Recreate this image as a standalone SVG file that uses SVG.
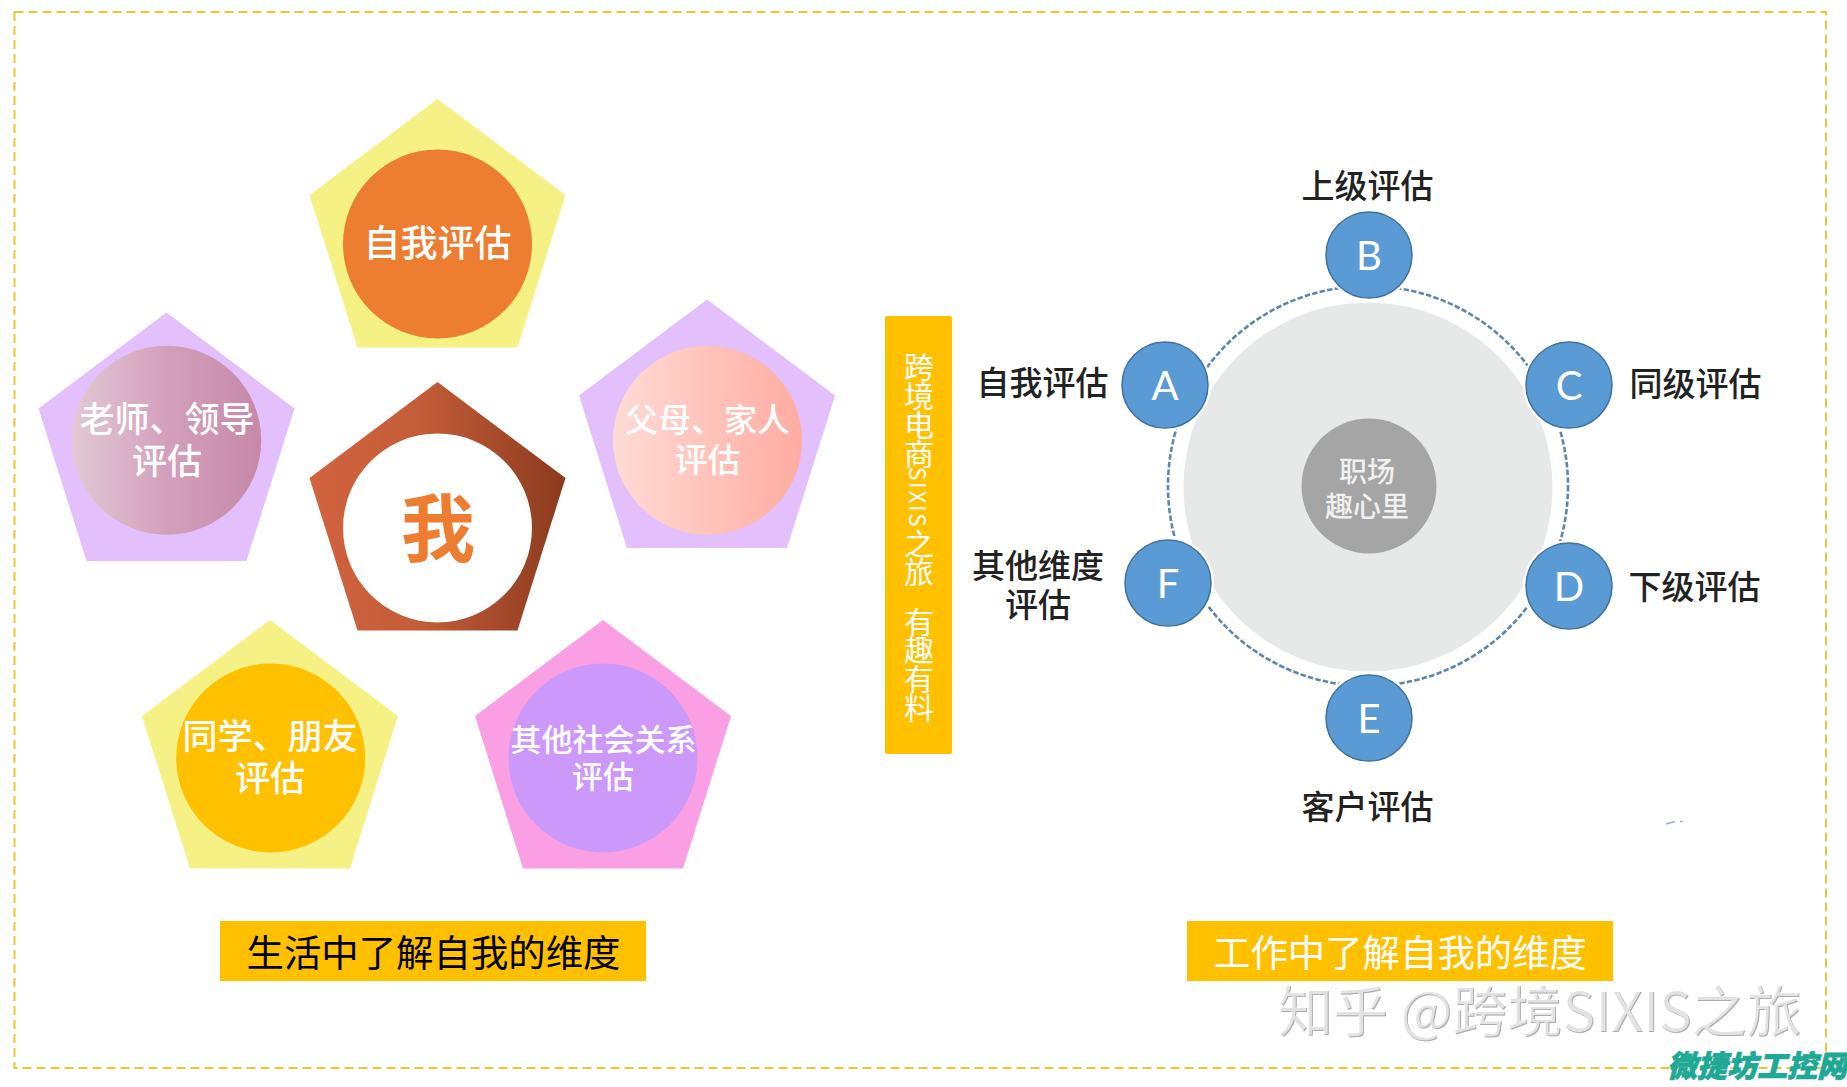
<svg xmlns="http://www.w3.org/2000/svg" width="1847" height="1087" viewBox="0 0 1847 1087">
<style>
text{font-family:"Noto Sans CJK SC","Liberation Sans",sans-serif;text-anchor:middle}
.w{fill:#fff;font-weight:500}
.k{fill:#222;font-weight:500;font-size:33px}
.l{fill:#fff;font-family:"Lato","Liberation Sans",sans-serif;font-size:40px}
.b{fill:#5b9bd5;stroke:#41719c;stroke-width:1.5}
.h{fill:#fff}
</style>
<defs>
<polygon id="p" points="0,0 128,96 80,248.5 -80,248.5 -128,96"/>
<linearGradient id="g1"><stop offset="0" stop-color="#d2633f"/><stop offset="0.45" stop-color="#c25c38"/><stop offset="1" stop-color="#8b3a1e"/></linearGradient>
<linearGradient id="g2"><stop offset="0" stop-color="#e2c8d4"/><stop offset="0.5" stop-color="#d3a0bc"/><stop offset="1" stop-color="#c788a8"/></linearGradient>
<linearGradient id="g3"><stop offset="0" stop-color="#ffdbd5"/><stop offset="1" stop-color="#ffaca1"/></linearGradient>
<filter id="emboss" x="-5%" y="-20%" width="110%" height="140%">
<feOffset in="SourceAlpha" dx="-1.4" dy="-1.2" result="o"/>
<feComposite in="SourceGraphic" in2="o" operator="out" result="edge"/>
<feComponentTransfer in="SourceGraphic" result="soft"><feFuncA type="linear" slope="0.35"/></feComponentTransfer>
<feMerge><feMergeNode in="soft"/><feMergeNode in="edge"/></feMerge>
</filter>
</defs>
<rect width="1847" height="1087" fill="#fff"/>
<rect id="frame" x="14.5" y="12" width="1811.5" height="1056" fill="none" stroke="#e8c93a" stroke-width="2" stroke-dasharray="9 5"/>

<g id="node-self"><use href="#p" x="437.5" y="99" fill="#f5f184"/><circle cx="437.5" cy="244" r="94.5" fill="#ed7d31"/><text class="w" x="437.5" y="257" font-size="37">自我评估</text></g>
<g id="node-me"><use href="#p" x="437.5" y="382" fill="url(#g1)"/><circle cx="437.5" cy="528" r="94.5" fill="#fff"/><text x="438" y="556" font-size="74" font-weight="700" fill="#ed7d31">我</text></g>
<g id="node-teacher"><use href="#p" x="166.5" y="312.5" fill="#e3bffb"/><circle cx="166.7" cy="440.3" r="94.5" fill="url(#g2)"/><text class="w" x="167" y="432" font-size="35">老师、领导</text><text class="w" x="167" y="474" font-size="35">评估</text></g>
<g id="node-parents"><use href="#p" x="707" y="299.5" fill="#e3bffb"/><circle cx="707.5" cy="440.3" r="94.5" fill="url(#g3)"/><text class="w" x="707.5" y="432" font-size="33">父母、家人</text><text class="w" x="707.5" y="472" font-size="33">评估</text></g>
<g id="node-classmate"><use href="#p" x="270" y="620" fill="#f5f184"/><circle cx="270.7" cy="758" r="94.5" fill="#ffc000"/><text class="w" x="270" y="749" font-size="35">同学、朋友</text><text class="w" x="270" y="791" font-size="35">评估</text></g>
<g id="node-social"><use href="#p" x="603" y="620" fill="#fa9fe3"/><circle cx="603" cy="758" r="94.5" fill="#cc99fb"/><text class="w" x="603.5" y="751" font-size="31">其他社会关系</text><text class="w" x="603" y="788" font-size="31">评估</text></g>

<g id="banner-life"><rect x="220" y="921" width="426" height="60" fill="#ffc000"/><text x="433.5" y="966.5" font-size="37.4" fill="#000">生活中了解自我的维度</text></g>
<g id="banner-work"><rect x="1187" y="921" width="426" height="60" fill="#ffc000"/><text x="1400" y="966.5" font-size="37.4" fill="#fff">工作中了解自我的维度</text></g>
<g id="side-banner"><rect x="885" y="316" width="67" height="438" rx="2" fill="#ffc000"/><text x="919" y="352" font-size="30" letter-spacing="-1.3" fill="#fff" style="writing-mode:vertical-rl;text-anchor:start">跨境电商<tspan font-size="22.5" letter-spacing="1.7">SIXIS</tspan>之旅<tspan y="606">有趣有料</tspan></text></g>

<g id="connectors"><circle cx="1368" cy="486" r="200" fill="none" stroke="#5f87ad" stroke-width="2.6" stroke-dasharray="5.5 2.2"/></g>
<g id="hub"><circle cx="1368" cy="487" r="184.5" fill="#e7e9e8"/><circle cx="1369" cy="486" r="67.5" fill="#a5a5a5"/><text x="1367" y="482" font-size="28" fill="#f0f0f0" font-weight="500">职场</text><text x="1367" y="517" font-size="28" fill="#f0f0f0" font-weight="500">趣心里</text></g>
<g id="node-a"><circle class="h" cx="1165" cy="385" r="46"/><circle class="b" cx="1165" cy="385" r="43"/><text class="l" x="1165" y="400">A</text><text class="k" x="1042.5" y="395">自我评估</text></g>
<g id="node-b"><circle class="h" cx="1369" cy="255" r="46"/><circle class="b" cx="1369" cy="255" r="43"/><text class="l" x="1369" y="270">B</text><text class="k" x="1367.5" y="198">上级评估</text></g>
<g id="node-c"><circle class="h" cx="1569" cy="385" r="46"/><circle class="b" cx="1569" cy="385" r="43"/><text class="l" x="1569" y="400">C</text><text class="k" x="1695.5" y="396">同级评估</text></g>
<g id="node-d"><circle class="h" cx="1569" cy="586" r="46"/><circle class="b" cx="1569" cy="586" r="43"/><text class="l" x="1569" y="601">D</text><text class="k" x="1694.5" y="599">下级评估</text></g>
<g id="node-e"><circle class="h" cx="1369" cy="718" r="46"/><circle class="b" cx="1369" cy="718" r="43"/><text class="l" x="1369" y="733">E</text><text class="k" x="1367.5" y="819">客户评估</text></g>
<g id="node-f"><circle class="h" cx="1168" cy="583" r="46"/><circle class="b" cx="1168" cy="583" r="43"/><text class="l" x="1168" y="598">F</text><text class="k" x="1038" y="578">其他维度</text><text class="k" x="1038" y="617">评估</text></g>

<path d="M1666 824l9-2.5M1680 821.5h3" fill="none" stroke="#8fb4cc" stroke-width="1.5"/>
<g id="watermark"><text x="1540.5" y="1032" font-size="55" fill="#adadad" filter="url(#emboss)">知乎 @跨境SIXIS之旅</text></g>
<g id="stamp"><text x="1757" y="1077" font-size="30" font-weight="900" font-style="italic" fill="#1ea896" stroke="#1ea896" stroke-width="0.8">微捷坊工控网</text></g>
</svg>
